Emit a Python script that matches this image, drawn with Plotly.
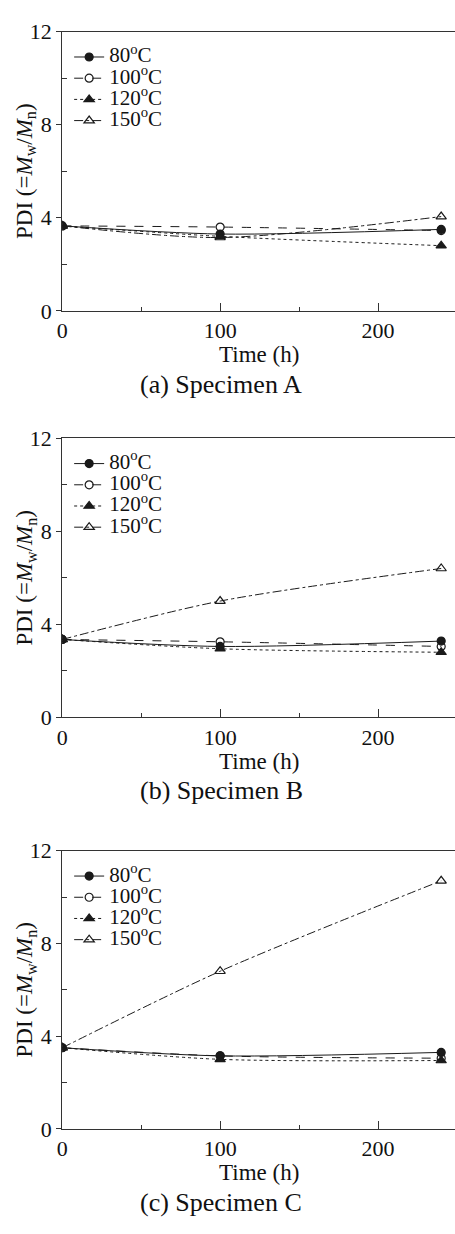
import plotly.graph_objects as go

# ---------------- data ----------------
time_h = [0, 100, 240]
series_names = ["80<sup>o</sup>C", "100<sup>o</sup>C", "120<sup>o</sup>C", "150<sup>o</sup>C"]

pdi_A_80 = [3.65, 3.30, 3.50]
pdi_A_100 = [3.65, 3.60, 3.45]
pdi_A_120 = [3.65, 3.20, 2.80]
pdi_A_150 = [3.65, 3.15, 4.05]

pdi_B_80 = [3.35, 3.05, 3.28]
pdi_B_100 = [3.35, 3.25, 3.05]
pdi_B_120 = [3.35, 2.95, 2.80]
pdi_B_150 = [3.35, 5.00, 6.40]

pdi_C_80 = [3.50, 3.15, 3.30]
pdi_C_100 = [3.50, 3.15, 3.05]
pdi_C_120 = [3.50, 3.00, 2.95]
pdi_C_150 = [3.50, 6.80, 10.70]

panel_data = [
    [pdi_A_80, pdi_A_100, pdi_A_120, pdi_A_150],
    [pdi_B_80, pdi_B_100, pdi_B_120, pdi_B_150],
    [pdi_C_80, pdi_C_100, pdi_C_120, pdi_C_150],
]
captions = ["(a) Specimen A", "(b) Specimen B", "(c) Specimen C"]
x_ticks = [0, 100, 200]
y_ticks = [0, 4, 8, 12]

# ---------------- style ----------------
W, H = 455, 1234
FONT = "Liberation Serif, Times New Roman, serif"
INK = "#1a1a1a"
styles = [
    dict(symbol="circle", dash="solid"),
    dict(symbol="circle-open", dash="dash"),
    dict(symbol="triangle-up", dash="dot"),
    dict(symbol="triangle-up-open", dash="dashdot"),
]
# plot boxes in pixels (top, bottom)
boxes = [(20, 305), (435, 720), (856, 1140)]
x_left_px = 57

fig = go.Figure()

for i, (data, (top, bot)) in enumerate(zip(panel_data, boxes)):
    sfx = "" if i == 0 else str(i + 1)
    lg = "legend" if i == 0 else f"legend{i + 1}"
    for name, vals, st in zip(series_names, data, styles):
        fig.add_trace(go.Scatter(
            x=time_h, y=vals, mode="lines+markers",
            name=f'<span style="font-size:21px">{name}</span>',
            line=dict(color=INK, width=1, dash=st["dash"], shape="spline", smoothing=0.8),
            marker=dict(symbol=st["symbol"], size=8 if "circle" in st["symbol"] else 9,
                        color=INK, line=dict(color=INK, width=1.2)),
            xaxis="x" + sfx, yaxis="y" + sfx, legend=lg, showlegend=True,
        ))
    ydom = [1 - bot / H, 1 - top / H]
    axis_common = dict(showgrid=False, zeroline=False, showline=True, linecolor="#333",
                       linewidth=1.2, tickfont=dict(family=FONT, size=22, color="#111"))
    fig.update_layout({
        "xaxis" + sfx: dict(domain=[x_left_px / W, 1], range=[0, (W - x_left_px) / 1.6],
                            anchor="y" + sfx, tickvals=x_ticks, ticks="inside", ticklen=8,
                            tickcolor="#333", mirror=True,
                            minor=dict(tickvals=[50, 150], ticks="inside", ticklen=4, tickcolor="#333"),
                            **axis_common),
        "yaxis" + sfx: dict(domain=ydom, range=[0, 12], anchor="x" + sfx, tickvals=y_ticks,
                            ticks="outside", ticklen=5, tickcolor="#333",
                            minor=dict(tickvals=[2, 6, 10], ticks="inside", ticklen=5, tickcolor="#333"),
                            **axis_common),
        lg: dict(x=64 / W, y=1 - (top + 10) / H, xanchor="left", yanchor="top",
                 font=dict(family=FONT, size=14, color="#111"), bgcolor="rgba(0,0,0,0)",
                 borderwidth=0, tracegroupgap=0),
    })
    # y-axis title
    fig.add_annotation(x=20 / W, y=1 - (top + bot) / 2 / H, xref="paper", yref="paper",
                       xanchor="center", yanchor="middle",
                       text="PDI (=<i>M</i><sub>w</sub>/<i>M</i><sub>n</sub>)", textangle=-90,
                       showarrow=False, font=dict(family=FONT, size=23, color="#111"))
    # x-axis title
    fig.add_annotation(x=(x_left_px + W) / 2 / W, y=1 - (bot + 45) / H, xref="paper", yref="paper",
                       xanchor="center", yanchor="middle",
                       text="Time (h)", showarrow=False,
                       font=dict(family=FONT, size=23, color="#111"))
    # caption
    fig.add_annotation(x=218 / W, y=1 - (bot + 75) / H, xref="paper", yref="paper",
                       xanchor="center", yanchor="middle",
                       text=captions[i], showarrow=False,
                       font=dict(family=FONT, size=26, color="#111"))

fig.update_layout(width=W, height=H, margin=dict(l=0, r=0, t=0, b=0),
                  paper_bgcolor="white", plot_bgcolor="white")

fig.write_html("out.html")
